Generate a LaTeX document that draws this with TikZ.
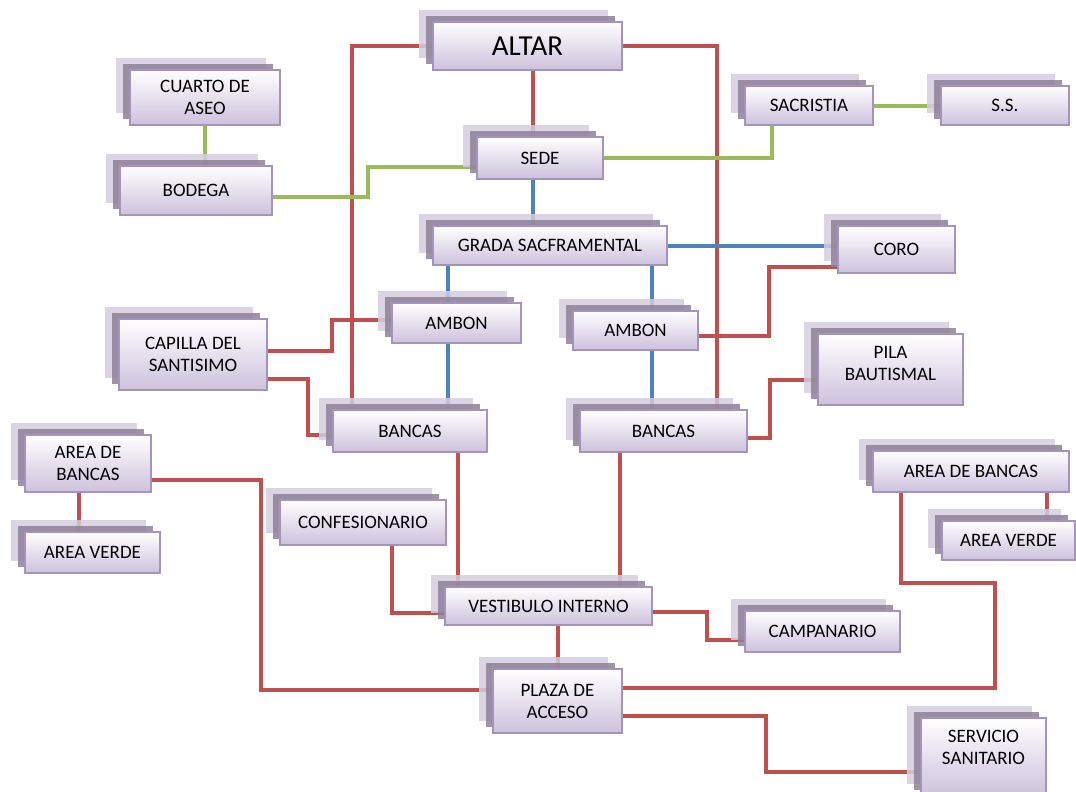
\documentclass[tikz,border=0pt]{standalone}
\usepackage{fontspec}
\setmainfont{Carlito}
\usetikzlibrary{shadows,backgrounds,calc}

\definecolor{boxbot}{HTML}{CDC1DC}
\definecolor{boxline}{HTML}{A593BF}
\definecolor{shdark}{HTML}{8D8197}
\definecolor{shlight}{HTML}{D4CDDE}
\definecolor{linkred}{HTML}{C0504D}
\definecolor{linkgreen}{HTML}{9BBB59}
\definecolor{linkblue}{HTML}{4F81BD}

\tikzset{
  room/.style={draw=boxline, line width=1.2pt, top color=white, bottom color=boxbot,
    align=center, inner sep=0pt, text=black, font=\fontsize{19}{22}\selectfont,
    general shadow={fill=shlight, shadow xshift=-14pt, shadow yshift=12pt, fill opacity=0.85},
    general shadow={fill=shdark, shadow xshift=-7pt, shadow yshift=6pt, fill opacity=0.85}},
  sz/.style 2 args={minimum width=#1pt, minimum height=#2pt},
  redlink/.style={draw=linkred, line width=4pt},
  greenlink/.style={draw=linkgreen, line width=4pt},
  bluelink/.style={draw=linkblue, line width=4pt}
}

\begin{document}
\begin{tikzpicture}[x=1pt, y=-1pt]
  \useasboundingbox (0,0) rectangle (1076,792);

  % rooms
  \node[room, sz={189}{48}, font=\fontsize{29}{32}\selectfont] (altar) at (527.5,46) {ALTAR};
  \node[room, sz={150}{55}] (cuarto) at (205,97.5) {CUARTO DE\\ASEO};
  \node[room, sz={152}{49}] (bodega) at (196,190.5) {BODEGA};
  \node[room, sz={128}{39}] (sacristia) at (809,105.5) {SACRISTIA};
  \node[room, sz={128}{39}] (ss) at (1005,105.5) {S.S.};
  \node[room, sz={126}{42}] (sede) at (540,158) {SEDE};
  \node[room, sz={234}{39}] (grada) at (550,245.5) {GRADA SACFRAMENTAL};
  \node[room, sz={129}{40}] (ambonL) at (456.5,323) {AMBON};
  \node[room, sz={125}{39}] (ambonR) at (635.5,330.5) {AMBON};
  \node[room, sz={117}{47}] (coro) at (896.5,249.5) {CORO};
  \node[room, sz={148}{71}] (capilla) at (193,354.5) {CAPILLA DEL\\SANTISIMO};
  \node[room, sz={145}{71}] (pila) at (890.5,369.5) {\raisebox{4pt}[\height][\depth]{\begin{tabular}{@{}c@{}}PILA\\BAUTISMAL\end{tabular}}};
  \node[room, sz={154}{42}] (bancasL) at (410,431) {BANCAS};
  \node[room, sz={167}{42}] (bancasR) at (663.5,431) {BANCAS};
  \node[room, sz={126}{57}] (areaBL) at (88,463.5) {AREA DE\\BANCAS};
  \node[room, sz={135}{41}] (areaVL) at (92.5,552.5) {AREA VERDE};
  \node[room, sz={196}{41}] (areaBR) at (971,471.5) {AREA DE BANCAS};
  \node[room, sz={133}{39}] (areaVR) at (1008.5,540.5) {AREA VERDE};
  \node[room, sz={166}{45}] (confes) at (363,522.5) {CONFESIONARIO};
  \node[room, sz={207}{38}] (vestib) at (548.5,606) {VESTIBULO INTERNO};
  \node[room, sz={155}{41}] (campan) at (822.5,631.5) {CAMPANARIO};
  \node[room, sz={129}{64}] (plaza) at (557.5,701) {PLAZA DE\\ACCESO};
  \node[room, sz={125}{78}] (servicio) at (983.5,757) {\raisebox{8pt}[\height][\depth]{\begin{tabular}{@{}c@{}}SERVICIO\\SANITARIO\end{tabular}}};

  % columns of the vertical runs
  \coordinate (spine) at (533,0);
  \coordinate (colL) at (352,0);
  \coordinate (colR) at (717,0);
  \coordinate (colLA) at (448,0);
  \coordinate (colRA) at (652,0);
  \coordinate (colLB) at (458,0);
  \coordinate (colRB) at (620,0);
  \coordinate (bendBR) at (995,583);
  \coordinate (vl) at ($(areaBL.south west)+(55,0)$);
  \coordinate (vr) at ($(areaBR.south east)+(-23,0)$);

  \begin{pgfonlayer}{background}
    % red links
    \draw[redlink] (altar.west) -| (bancasL.north -| colL);
    \draw[redlink] (altar.east) -| (bancasR.north -| colR);
    \draw[redlink] (altar.south -| spine) -- (sede.north -| spine);
    \draw[redlink] ($(capilla.east)+(0,-4)$) -- ++(64,0) |- ($(ambonL.west)+(0,-3)$);
    \draw[redlink] ($(capilla.east)+(0,24.5)$) -- ++(40,0) |- ($(bancasL.west)+(0,4)$);
    \draw[redlink] ($(ambonR.east)+(0,5)$) -- ++(70,0) |- ($(coro.south west)+(0,-7)$);
    \draw[redlink] ($(bancasR.east)+(0,7)$) -- ++(22,0) |- ($(pila.west)+(0,10)$);
    \draw[redlink] (bancasL.south -| colLB) -- (vestib.north -| colLB);
    \draw[redlink] (bancasR.south -| colRB) -- (vestib.north -| colRB);
    \draw[redlink] ($(confes.south)+(29,0)$) |- ($(vestib.west)+(0,7)$);
    \draw[redlink] ($(vestib.east)+(0,6)$) -- ++(54,0) |- ($(campan.west)+(0,8)$);
    \draw[redlink] (vestib.south -| plaza.north) -- (plaza.north);
    \draw[redlink] ($(areaBL.east)+(0,16)$) -- ++(109,0) |- ($(plaza.west)+(0,-11)$);
    \draw[redlink] (vl) -- (vl |- areaVL.north);
    \draw[redlink] ($(areaBR.south west)+(29,0)$) |- (bendBR) |- ($(plaza.east)+(0,-13)$);
    \draw[redlink] (vr) -- (vr |- areaVR.north);
    \draw[redlink] ($(plaza.east)+(0,15)$) -- ++(143,0) |- ($(servicio.west)+(0,15)$);
    % green links
    \draw[greenlink] (cuarto.south) -- (cuarto.south |- bodega.north);
    \draw[greenlink] ($(bodega.east)+(0,6)$) -- ++(95,0) |- ($(sede.west)+(0,9)$);
    \draw[greenlink] (sede.east) -| ($(sacristia.south west)+(28,0)$);
    \draw[greenlink] (sacristia.east) -- (ss.west);
    % blue links
    \draw[bluelink] (sede.south -| spine) -- (grada.north -| spine);
    \draw[bluelink] (grada.east) -- (grada.east -| coro.west);
    \draw[bluelink] (grada.south -| colLA) -- (ambonL.north -| colLA);
    \draw[bluelink] (ambonL.south -| colLA) -- (bancasL.north -| colLA);
    \draw[bluelink] (grada.south -| colRA) -- (ambonR.north -| colRA);
    \draw[bluelink] (ambonR.south -| colRA) -- (bancasR.north -| colRA);
  \end{pgfonlayer}
\end{tikzpicture}
\end{document}
